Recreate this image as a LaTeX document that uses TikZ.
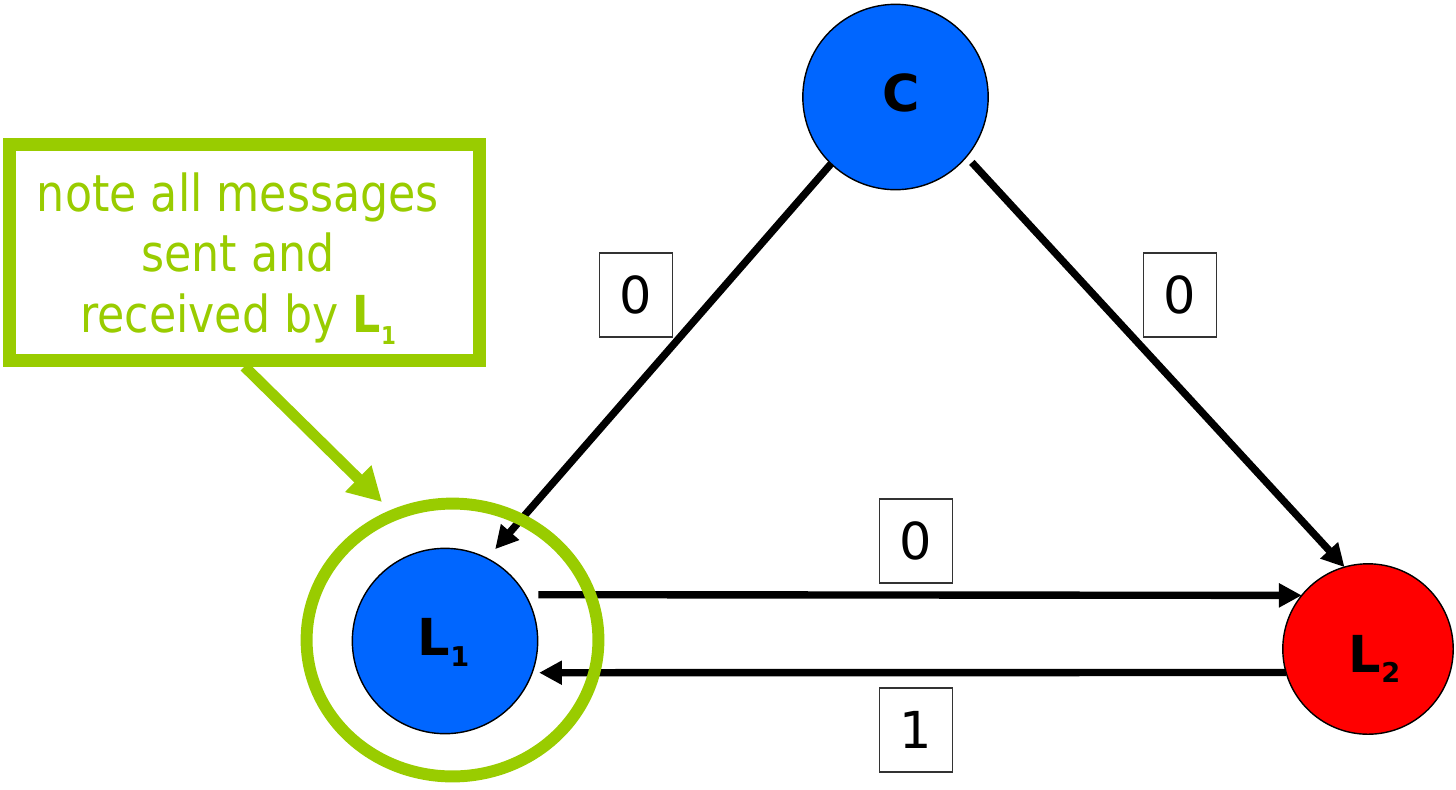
\documentclass[tikz,border=0pt]{standalone}
\usepackage{fontspec}
\setmainfont{DejaVu Sans}
\newfontfamily\notefont[FakeStretch=0.87]{DejaVu Sans}
\usetikzlibrary{arrows.meta,shapes.geometric}
\definecolor{notegreen}{HTML}{99CC00}
\definecolor{procblue}{HTML}{0066FF}
\definecolor{procred}{HTML}{FF0000}
\definecolor{boxgray}{HTML}{333333}
\begin{document}
\begin{tikzpicture}[x=0.02cm,y=-0.02cm,
  proc/.style={circle,draw=black,line width=0.8pt,inner sep=0pt,outer sep=0pt},
  proclabel/.style={inner sep=0pt,font=\fontsize{29}{29}\selectfont\bfseries},
  msg/.style={line width=4.2pt,-{Triangle[length=13pt,width=13pt]}},
  val/.style={draw=boxgray,line width=0.8pt,minimum width=41.4pt,minimum height=47.6pt,
    inner sep=0pt,font=\fontsize{29}{29}\selectfont},
  notebox/.style={draw=notegreen,line width=7.4pt,minimum width=267.6pt,
    minimum height=122.5pt,inner sep=0pt},
  notetext/.style={align=center,inner sep=0pt,text=notegreen,
    font=\notefont\fontsize{29}{34.3}\selectfont},
  notering/.style={ellipse,draw=notegreen,line width=6.8pt,minimum width=166.1pt,
    minimum height=155.3pt,inner sep=0pt},
  notearrow/.style={draw=notegreen,line width=6.2pt,
    -{Triangle[length=19pt,width=20pt]}}]
\path[use as bounding box] (0,0) rectangle (1456,789);

% processes
\node[proc,fill=procblue,minimum size=105.5pt] (C)  at (895.5,97) {};
\node[proc,fill=procblue,minimum size=105.5pt] (L1) at (445,641) {};
\node[proc,fill=procred,minimum size=97pt]     (L2) at (1368,649) {};

\node[proclabel,anchor=base] (Ct) at (901,111) {C};
\node[proclabel,anchor=base west] (L1t) at (417.5,655)
  {L\raisebox{-6.8pt}{\fontsize{15.5}{15.5}\selectfont 1}};
\node[proclabel,anchor=base west] (L2t) at (1348.5,672)
  {L\raisebox{-6.2pt}{\fontsize{15.5}{15.5}\selectfont 2}};

% messages
\draw[msg] (C.226) -- (L1.63) [shorten >=7pt];
\draw[msg,shorten <=4.5pt] (C.320) -- (L2.106);
\draw[msg,shorten <=7.4pt] (L1.30) -- (L2.141);
\draw[msg,shorten >=4pt] (L2.196) -- (L1.-20);

% message values
\node[val] (v1) at (636,295) {0};
\node[val] (v2) at (1180,295) {0};
\node[val] (v3) at (916,541) {0};
\node[val] (v4) at (916,730) {1};

% annotation
\node[notebox] (notebox) at (244.5,252.5) {};
\node[notetext] (note) at (238,258.5)
  {note all messages\\sent and\\received by
   {\bfseries L\raisebox{-6.8pt}{\fontsize{14}{14}\selectfont 1}}};
\node[notering] (ring) at (452.5,640) {};
\coordinate (notetip) at (382,502);
\draw[notearrow] (notebox.south) -- (notetip);
\end{tikzpicture}
\end{document}
